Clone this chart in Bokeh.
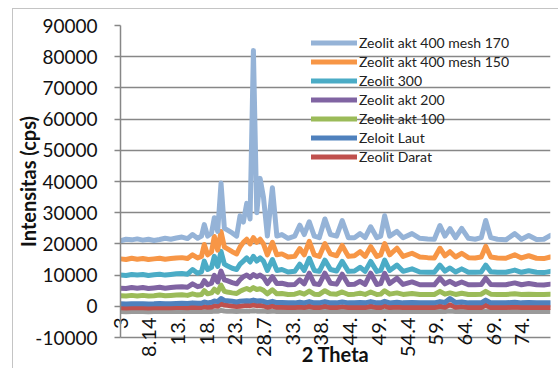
import math
from bokeh.plotting import figure
from bokeh.models import Legend, LegendItem, FixedTicker, Range1d
from bokeh.embed import file_html
from bokeh.resources import INLINE

# ---------------- data ----------------
two_theta = [3, 4, 5, 6, 7, 8, 9, 10, 11, 12, 13, 14, 15,
             15.9, 16.8, 17.5, 18.0, 18.6, 19.3, 19.8, 20.4, 21.0, 21.6, 22.1, 23.0, 23.8, 24.4,
             25.0, 25.6, 26.2, 26.8, 27.4, 28.0, 28.6, 29.3, 30.2, 31.0, 31.9,
             33.0, 34.2, 35.1, 35.9, 36.8, 37.7, 38.6, 39.6, 40.6, 41.7, 42.7, 43.8, 44.9,
             45.9, 46.8, 47.8, 48.9, 49.6, 50.3, 51.2, 52.5, 53.6,
             55.2, 56.6, 58.0, 59.2, 60.2, 61.1, 62.0, 63.0, 64.1, 65.3, 66.5, 67.6, 68.4,
             69.3, 70.5, 72.0, 73.6, 74.8, 76.1, 77.5, 78.8, 80.0]

zeolit_akt_400_mesh_170 = [
    21000, 21500, 21300, 21600, 21200, 21500, 21100, 21400, 21800, 21500, 21900, 22200, 21700,
    23000, 21800, 22500, 26200, 22500, 23500, 28400, 24000, 39500, 25000, 24500, 23500, 22500, 29000,
    27000, 33000, 28000, 82000, 30000, 41000, 35000, 22500, 38000, 22500, 23000,
    21800, 22500, 26000, 23000, 27100, 22500, 22000, 28000, 23000, 22500, 27500, 22000, 22000,
    23300, 22000, 25500, 22000, 22500, 29000, 22500, 24000, 22000,
    23300, 21800, 21600, 21500, 25900, 22500, 24900, 22000, 25000, 21800, 21500, 22000, 27500,
    22000, 21500, 21300, 23300, 21500, 22700, 21400, 21500, 22700]

zeolit_akt_400_mesh_150 = [
    15200, 15000, 15400, 15100, 15300, 15000, 15200, 15400, 15100, 15300, 15500, 15600, 15300,
    16500, 15500, 16000, 19800, 16500, 17500, 22400, 18000, 24000, 19000, 18500, 17500, 16800, 19000,
    20500, 21500, 20000, 22000, 20500, 21500, 20000, 16500, 20500, 16500, 16800,
    15800, 16000, 18500, 16500, 20800, 16500, 16000, 20100, 16800, 16200, 19500, 16000, 16200,
    17500, 16000, 19100, 16000, 16500, 20100, 16500, 18600, 16000,
    17000, 15800, 15600, 15500, 18600, 16200, 17500, 15800, 17000, 15600, 15500, 15800, 19200,
    15800, 15500, 15400, 16500, 15500, 16200, 15400, 15300, 15800]

zeolit_300 = [
    10000, 9900, 10200, 10000, 10200, 9900, 10100, 10300, 10000, 10200, 10400, 10500, 10300,
    11800, 10600, 11000, 14500, 11800, 12500, 16000, 12800, 17600, 13500, 13000, 12200, 11800, 13500,
    14500, 15500, 14200, 16000, 14500, 15500, 14500, 11500, 15000, 11500, 11800,
    11000, 11200, 13500, 11500, 15400, 11500, 11200, 14800, 11800, 11300, 14400, 11200, 11300,
    12500, 11200, 14400, 11200, 11500, 14800, 11500, 13200, 11200,
    12000, 11000, 10900, 10900, 13200, 11300, 12300, 11000, 12000, 10900, 10900, 11000, 13200,
    11100, 10900, 10900, 11600, 10900, 11400, 10900, 10800, 11200]

zeolit_akt_200 = [
    5800, 5700, 6000, 5800, 6000, 5700, 5900, 6100, 5800, 6000, 6200, 6300, 6100,
    7200, 6300, 6600, 8200, 6900, 7400, 9900, 7800, 11300, 8500, 8200, 7600, 7200, 8500,
    9500, 10000, 9200, 10200, 9500, 10000, 9300, 7300, 9500, 7300, 7400,
    6900, 7000, 8500, 7200, 10600, 7200, 7000, 10600, 7400, 7100, 10300, 7000, 7100,
    8000, 7000, 10600, 7000, 7300, 10600, 7300, 9000, 7000,
    7800, 6900, 6900, 6900, 9000, 7200, 8000, 7000, 7800, 6900, 6900, 7000, 9000,
    7000, 6900, 6900, 7500, 6900, 7300, 6900, 6800, 7100]

zeolit_akt_100 = [
    3400, 3300, 3500, 3300, 3500, 3300, 3400, 3600, 3400, 3500, 3600, 3700, 3500,
    4000, 3600, 3800, 5000, 4000, 4300, 5500, 4500, 6800, 4800, 4600, 4300, 4100, 4800,
    5300, 5700, 5200, 6000, 5400, 5600, 5100, 4000, 5300, 4000, 4100,
    3800, 3900, 4400, 3900, 4900, 3900, 3800, 5000, 4000, 3900, 4600, 3800, 3900,
    4200, 3800, 4600, 3800, 3900, 5000, 3900, 4300, 3800,
    4100, 3800, 3800, 3800, 4800, 3900, 4300, 3800, 4200, 3800, 3800, 3900, 4800,
    3900, 3800, 3800, 4000, 3800, 3900, 3800, 3800, 3900]

zeloit_laut = [
    800, 750, 850, 800, 850, 750, 800, 900, 800, 850, 900, 950, 900,
    1100, 950, 1000, 1400, 1100, 1300, 1700, 1500, 2500, 1900, 1800, 1600, 1400, 1600,
    1700, 1800, 1700, 2000, 1700, 1800, 1600, 1200, 1600, 1200, 1200,
    1100, 1100, 1300, 1100, 1500, 1100, 1100, 1500, 1100, 1100, 1400, 1100, 1100,
    1200, 1100, 1500, 1100, 1100, 1600, 1100, 1300, 1100,
    1200, 1100, 1100, 1100, 1500, 1200, 2500, 1200, 1400, 1100, 1100, 1100, 2000,
    1100, 1100, 1100, 1300, 1100, 1200, 1100, 1100, 1100]

zeolit_darat = [
    -500, -550, -450, -500, -450, -550, -500, -450, -500, -450, -400, -400, -450,
    -300, -400, -350, -100, -300, -200, 200, 0, 900, 400, 300, 100, -100, 0,
    200, 300, 200, 500, 200, 300, 100, -300, 100, -300, -300,
    -400, -400, -200, -400, 0, -400, -400, 0, -400, -400, -100, -400, -400,
    -300, -400, 0, -400, -400, 100, -400, -200, -400,
    -300, -400, -400, -400, 0, -300, 500, -300, -100, -400, -400, -400, 300,
    -400, -400, -400, -200, -400, -300, -400, -400, -400]

# grey band drawn under the red trace (no legend entry in the original)
grey_trace = [
    -1700, -1750, -1700, -1650, -1700, -1750, -1700, -1650, -1700, -1700, -1650, -1700, -1700,
    -1650, -1700, -1700, -1600, -1700, -1650, -1500, -1600, -1300, -1500, -1550, -1600, -1650, -1600,
    -1550, -1500, -1550, -1400, -1550, -1500, -1550, -1700, -1550, -1700, -1700,
    -1700, -1700, -1650, -1700, -1600, -1700, -1700, -1600, -1700, -1700, -1650, -1700, -1700,
    -1650, -1700, -1600, -1700, -1700, -1600, -1700, -1650, -1700,
    -1650, -1700, -1700, -1700, -1600, -1700, -1500, -1700, -1650, -1700, -1700, -1700, -1600,
    -1700, -1700, -1700, -1650, -1700, -1700, -1700, -1700, -1700]

series_names = ["Zeolit akt 400 mesh 170", "Zeolit akt 400 mesh 150", "Zeolit 300",
                "Zeolit akt 200", "Zeolit akt 100", "Zeloit Laut", "Zeolit Darat"]
series_values = [zeolit_akt_400_mesh_170, zeolit_akt_400_mesh_150, zeolit_300,
                 zeolit_akt_200, zeolit_akt_100, zeloit_laut, zeolit_darat]
series_colors = ["#95B3D7", "#F79646", "#4BACC6", "#8064A2", "#9BBB59", "#4F81BD", "#C0504D"]

x_tick_values = [3, 8.14, 13.28, 18.42, 23.56, 28.7, 33.84, 38.98, 44.12, 49.26,
                 54.4, 59.54, 64.68, 69.82, 74.96]
x_tick_labels = ["3", "8.14", "13.", "18.", "23.", "28.7", "33.", "38.", "44.", "49.",
                 "54.4", "59.", "64.", "69.", "74."]
y_tick_values = [-10000, 0, 10000, 20000, 30000, 40000, 50000, 60000, 70000, 80000, 90000]
y_tick_labels = ["-10000", "0", "10000", "20000", "30000", "40000", "50000",
                 "60000", "70000", "80000", "90000"]

x_title = "2 Theta"
y_title = "Intensitas (cps)"

FONT = "Lato"
GRID = "#878787"
INK = "#111111"

# ---------------- figure ----------------
p = figure(width=546, height=360, output_backend="svg", toolbar_location=None,
           x_range=Range1d(3, 80), y_range=Range1d(-10000, 90000),
           min_border_left=106, min_border_right=9, min_border_top=16, min_border_bottom=28)
p.margin = (8, 0, 0, 12)
p.styles = {"border-top": "1.5px solid #c4c4c4", "border-left": "1.5px solid #c4c4c4"}
p.outline_line_color = None
p.background_fill_color = "white"
p.border_fill_color = "white"

# y axis
p.yaxis.ticker = FixedTicker(ticks=y_tick_values)
p.yaxis.major_label_overrides = {v: s for v, s in zip(y_tick_values, y_tick_labels)}
p.yaxis.major_label_text_font = FONT
p.yaxis.major_label_text_font_size = "19px"
p.yaxis.major_label_text_color = INK
p.yaxis.major_label_standoff = 17
p.yaxis.major_tick_out = 6
p.yaxis.major_tick_in = 0
p.yaxis.minor_tick_out = 0
p.yaxis.minor_tick_in = 0
p.yaxis.axis_line_color = GRID
p.yaxis.axis_line_width = 1.5
p.yaxis.major_tick_line_color = GRID
p.yaxis.major_tick_line_width = 1.5
p.yaxis.axis_label = y_title
p.yaxis.axis_label_text_font = FONT
p.yaxis.axis_label_text_font_style = "bold"
p.yaxis.axis_label_text_font_size = "20px"
p.yaxis.axis_label_text_color = INK
p.yaxis.axis_label_standoff = -8

# x axis: rotated category labels reaching up over the lowest band, title overlapping them
p.xaxis.ticker = FixedTicker(ticks=x_tick_values)
p.xaxis.major_label_overrides = {v: s for v, s in zip(x_tick_values, x_tick_labels)}
p.xaxis.major_label_orientation = math.pi / 2
p.xaxis.major_label_text_font = FONT
p.xaxis.major_label_text_font_size = "20px"
p.xaxis.major_label_text_color = INK
p.xaxis.major_label_standoff = -20
p.xaxis.major_tick_out = 0
p.xaxis.major_tick_in = 0
p.xaxis.minor_tick_out = 0
p.xaxis.minor_tick_in = 0
p.xaxis.axis_line_color = GRID
p.xaxis.axis_line_width = 1.5
p.xaxis.axis_label = x_title
p.xaxis.axis_label_text_font = FONT
p.xaxis.axis_label_text_font_style = "bold"
p.xaxis.axis_label_text_font_size = "20px"
p.xaxis.axis_label_text_color = INK
p.xaxis.axis_label_standoff = -18

p.xgrid.grid_line_color = None
p.ygrid.grid_line_color = GRID
p.ygrid.grid_line_width = 1.5

# traces: bottom series first
p.line(two_theta, grey_trace, line_color="#9a9a9a", line_width=5)
renderers = {}
for name, vals, col in reversed(list(zip(series_names, series_values, series_colors))):
    renderers[name] = p.line(two_theta, vals, line_color=col, line_width=5,
                             line_join="round", line_cap="round")

legend = Legend(items=[LegendItem(label=n, renderers=[renderers[n]]) for n in series_names],
                location=(191, 172))
legend.label_text_font = FONT
legend.label_text_font_size = "14px"
legend.label_text_color = "#222222"
legend.glyph_width = 46
legend.glyph_height = 15
legend.label_height = 15
legend.spacing = 2
legend.padding = 0
legend.margin = 0
legend.label_standoff = 2
legend.background_fill_alpha = 0
legend.border_line_alpha = 0
p.add_layout(legend)

open("out.html", "w").write(file_html(p, INLINE))
